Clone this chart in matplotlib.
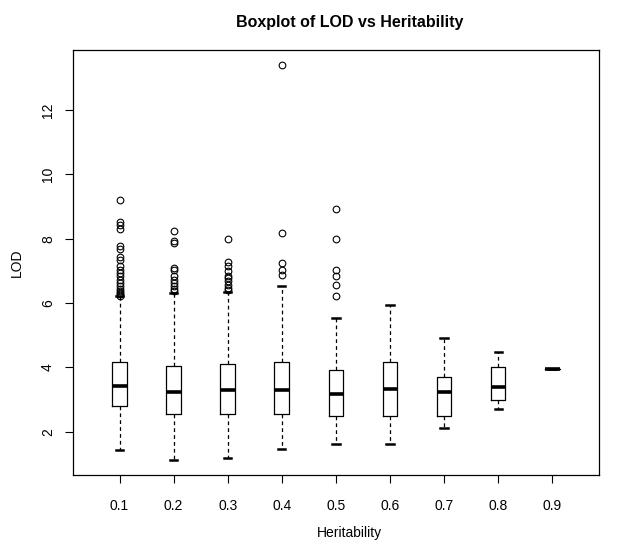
import matplotlib
matplotlib.use("Agg")
import matplotlib.pyplot as plt

plt.rcParams['font.family'] = ['Liberation Sans', 'DejaVu Sans']

# heritability groups
labels = ["0.1", "0.2", "0.3", "0.4", "0.5", "0.6", "0.7", "0.8", "0.9"]
# five number summaries
whislo = [1.43, 1.12, 1.18, 1.47, 1.62, 1.62, 2.11, 2.70, 3.95]
q1 = [2.80, 2.54, 2.56, 2.54, 2.49, 2.49, 2.47, 2.97, 3.95]
med = [3.42, 3.22, 3.30, 3.30, 3.17, 3.34, 3.23, 3.39, 3.95]
q3 = [4.17, 4.04, 4.09, 4.16, 3.91, 4.17, 3.69, 4.00, 3.95]
whishi = [6.21, 6.31, 6.33, 6.52, 5.53, 5.93, 4.90, 4.49, 3.95]
outliers = [
    [9.19, 8.53, 8.43, 8.31, 7.78, 7.68, 7.43, 7.35, 7.14, 7.04, 6.93, 6.83,
     6.73, 6.62, 6.52, 6.42, 6.36, 6.31, 6.27, 6.23],
    [8.24, 7.92, 7.86, 7.09, 7.04, 6.83, 6.73, 6.62, 6.52, 6.42, 6.36],
    [7.99, 7.29, 7.14, 6.98, 6.85, 6.78, 6.67, 6.57, 6.47, 6.39],
    [13.40, 8.19, 7.24, 7.04, 6.86],
    [8.93, 7.99, 7.04, 6.85, 6.57, 6.23],
    [], [], [], [],
]

stats = []
for i in range(len(labels)):
    stats.append(dict(label=labels[i], whislo=whislo[i], q1=q1[i], med=med[i],
                      q3=q3[i], whishi=whishi[i], fliers=outliers[i]))

fig = plt.figure(figsize=(6.27, 5.41), dpi=100)
ax = fig.add_axes([0.1164, 0.122, 0.8386, 0.7856])

ax.bxp(stats, widths=0.27, capwidths=0.135,
       boxprops=dict(color="black", linewidth=0.9),
       medianprops=dict(color="black", linewidth=2.6, solid_capstyle="butt"),
       whiskerprops=dict(color="black", linewidth=0.9, linestyle=(0, (3, 2.5))),
       capprops=dict(color="black", linewidth=1.8),
       flierprops=dict(marker="o", markerfacecolor="none", markeredgecolor="black",
                       markersize=4.8, markeredgewidth=0.8))

ax.set_xlim(0.14, 9.86)
ax.set_ylim(0.65, 13.87)
ax.set_yticks([2, 4, 6, 8, 10, 12])
ax.set_yticklabels(["2", "4", "6", "8", "10", "12"], rotation=90, va="center")
ax.tick_params(axis="both", direction="out", length=6, width=0.8, labelsize=10, pad=7)
ax.tick_params(axis="x", pad=11)
for s in ax.spines.values():
    s.set_linewidth(0.9)

ax.set_xlabel("Heritability", fontsize=10)
ax.xaxis.set_label_coords(0.525, -0.137)
ax.xaxis.label.set_va("center")
ax.set_ylabel("LOD", fontsize=10, labelpad=12)
fig.text(0.558, 0.958, "Boxplot of LOD vs Heritability", fontsize=11.5,
         fontweight="bold", ha="center", va="center")

fig.savefig("out.png", dpi=100)
